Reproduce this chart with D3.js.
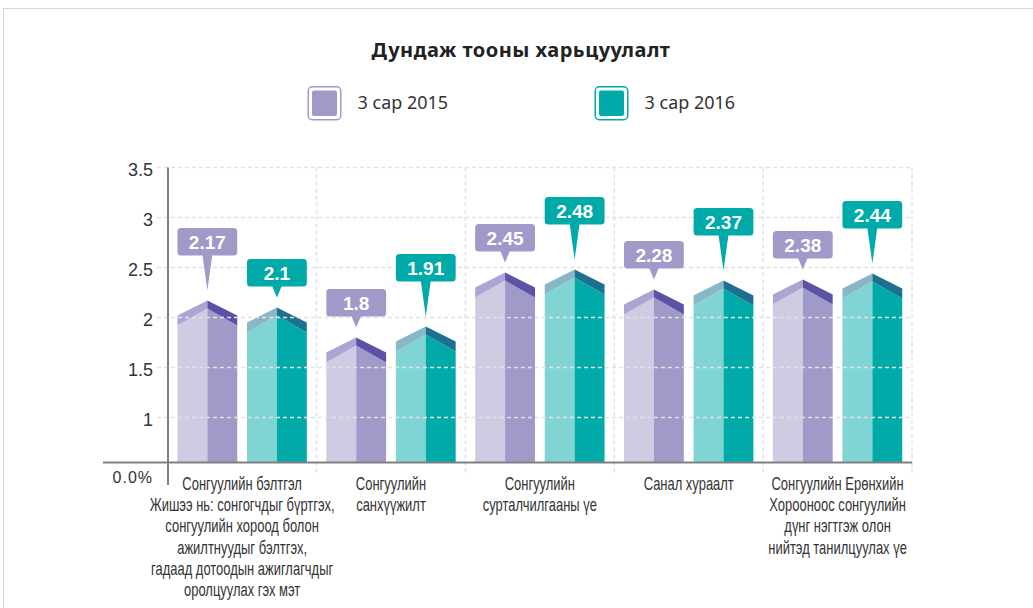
<!DOCTYPE html>
<html>
<head>
<meta charset="utf-8">
<script src="https://cdn.jsdelivr.net/npm/d3@7"></script>
<style>
  html, body { margin: 0; padding: 0; background: #fff; }
  svg { display: block; }
</style>
</head>
<body>
<svg id="chart" width="1033" height="608"></svg>
<script>
// ---------- data ----------
const title = "Дундаж тооны харьцуулалт";
const seriesNames = ["3 сар 2015", "3 сар 2016"];
const categoryLabels = [
  ["Сонгуулийн бэлтгэл", "Жишээ нь: сонгогчдыг бүртгэх,", "сонгуулийн хороод болон", "ажилтнуудыг бэлтгэх,", "гадаад дотоодын ажиглагчдыг", "оролцуулах гэх мэт"],
  ["Сонгуулийн", "санхүүжилт"],
  ["Сонгуулийн", "сурталчилгааны үе"],
  ["Санал хураалт"],
  ["Сонгуулийн Ерөнхийн", "Хорооноос сонгуулийн", "дүнг нэгтгэж олон", "нийтэд танилцуулах үе"]
];
const values2015 = [2.17, 1.8, 2.45, 2.28, 2.38];
const values2016 = [2.1, 1.91, 2.48, 2.37, 2.44];
const yTicks = [1, 1.5, 2, 2.5, 3, 3.5];
const baseLabel = "0.0%";

// ---------- styles ----------
const palette = [
  { main: "#a09ac9", light: "#cfcbe3", roofL: "#aba5d3", roofR: "#5a52a6", callout: "#a09ac9" },
  { main: "#00aaa9", light: "#80d5d4", roofL: "#88b8c7", roofR: "#1c7190", callout: "#00aaa8" }
];
const seriesValues = [values2015, values2016];

const svg = d3.select("#chart");

// frame
svg.append("rect").attr("x", 3.5).attr("y", 8.5).attr("width", 1100).attr("height", 700)
  .attr("fill", "none").attr("stroke", "#d6d6d6").attr("stroke-width", 1);

// scales
const y = d3.scaleLinear().domain([0.55, 3.5]).range([462.5, 167.5]);
const x = d3.scaleBand().domain(categoryLabels.map((d, i) => i)).range([167.7, 912]).padding(0);
const xs = d3.scaleBand().domain([0, 1]).range([0, x.bandwidth()]).paddingInner(0.14).paddingOuter(0.14);
const baseY = y(y.domain()[0]);

// title
svg.append("text").attr("x", 521).attr("y", 57).attr("text-anchor", "middle")
  .attr("font-family", "'Noto Sans', 'Open Sans', sans-serif").attr("font-weight", "700")
  .attr("font-size", 20).attr("letter-spacing", 0.5).attr("fill", "#222").text(title);

// legend
const legendX = [307.5, 594.5];
seriesNames.forEach((name, s) => {
  const g = svg.append("g").attr("transform", `translate(${legendX[s]},86)`);
  g.append("rect").attr("x", 0.75).attr("y", 0.75).attr("width", 32.5).attr("height", 33)
    .attr("rx", 4).attr("fill", "#fff").attr("stroke", palette[s].main).attr("stroke-width", 1.5);
  g.append("rect").attr("x", 4.5).attr("y", 4.5).attr("width", 25).attr("height", 25.5)
    .attr("rx", 2).attr("fill", palette[s].main);
  g.append("text").attr("x", 50).attr("y", 22.5)
    .attr("font-family", "'Noto Sans', 'Open Sans', sans-serif")
    .attr("font-size", 18).attr("fill", "#333").text(name);
});

// bars
const barsG = svg.append("g");
categoryLabels.forEach((c, i) => {
  seriesValues.forEach((vals, s) => {
    const v = vals[i];
    const x0 = x(i) + xs(s), w = xs.bandwidth(), x1 = x0 + w, xc = x0 + w / 2;
    const yp = y(v);
    const p = palette[s];
    const poly = pts => "M" + pts.map(q => q.join(",")).join("L") + "Z";
    barsG.append("path").attr("d", poly([[x0, baseY], [x0, yp + 25], [xc, yp + 8], [xc, baseY]])).attr("fill", p.light);
    barsG.append("path").attr("d", poly([[xc, baseY], [xc, yp + 8], [x1, yp + 25], [x1, baseY]])).attr("fill", p.main);
    barsG.append("path").attr("d", poly([[x0, yp + 15], [xc, yp], [xc, yp + 8], [x0, yp + 25]])).attr("fill", p.roofL);
    barsG.append("path").attr("d", poly([[xc, yp], [x1, yp + 15], [x1, yp + 25], [xc, yp + 8]])).attr("fill", p.roofR);
  });
});

// gridlines (drawn over bars)
const gridG = svg.append("g").attr("stroke", "#e2e2e2").attr("stroke-width", 1.5).attr("stroke-dasharray", "4,3");
yTicks.forEach(t => {
  gridG.append("line").attr("x1", 157).attr("x2", 912).attr("y1", y(t)).attr("y2", y(t));
});
categoryLabels.forEach((c, i) => {
  const xb = x(i) + x.bandwidth();
  gridG.append("line").attr("x1", xb).attr("x2", xb).attr("y1", y(3.5)).attr("y2", 473);
});

// axes lines
svg.append("line").attr("x1", 103).attr("x2", 912).attr("y1", baseY).attr("y2", baseY)
  .attr("stroke", "#808080").attr("stroke-width", 2);
svg.append("line").attr("x1", 168).attr("x2", 168).attr("y1", y(3.5)).attr("y2", 485)
  .attr("stroke", "#808080").attr("stroke-width", 2);

// y tick labels
const yAxis = d3.axisLeft(y).tickValues(yTicks).tickFormat(d3.format("")).tickSize(0).tickPadding(0);
const yAxisG = svg.append("g").attr("transform", "translate(153,0)").call(yAxis);
yAxisG.select(".domain").remove();
yAxisG.selectAll("text").attr("font-family", "'Liberation Sans', Arial, sans-serif")
  .attr("font-size", 18).attr("fill", "#333").attr("dy", "0.42em");
svg.append("text").attr("x", 153).attr("y", 483).attr("text-anchor", "end")
  .attr("font-family", "'Liberation Sans', Arial, sans-serif").attr("font-size", 16)
  .attr("letter-spacing", 1).attr("fill", "#333").text(baseLabel);

// category labels
categoryLabels.forEach((lines, i) => {
  const cx = x(i) + x.bandwidth() / 2;
  lines.forEach((line, k) => {
    svg.append("g").attr("transform", `translate(${cx},${490 + k * 21.2}) scale(0.72,1)`)
      .append("text").attr("text-anchor", "middle")
      .attr("font-family", "'Liberation Sans', Arial, sans-serif").attr("font-size", 18)
      .attr("fill", "#333").text(line);
  });
});

// callouts
const longTail = (i, s) => (i === 0 ? s === 0 : s === 1);
categoryLabels.forEach((c, i) => {
  seriesValues.forEach((vals, s) => {
    const v = vals[i];
    const x0 = x(i) + xs(s), w = xs.bandwidth(), xc = x0 + w / 2;
    const tip = y(v) - 10;
    const bottom = tip - (longTail(i, s) ? 35 : 11);
    const top = bottom - 27.5;
    const g = svg.append("g");
    g.append("path").attr("d", `M${xc - 5},${bottom - 1}L${xc + 5},${bottom - 1}L${xc},${tip}Z`).attr("fill", palette[s].callout);
    g.append("rect").attr("x", x0).attr("y", top).attr("width", w).attr("height", 27.5).attr("rx", 3.5)
      .attr("fill", palette[s].callout);
    g.append("text").attr("x", xc).attr("y", top + 20.5).attr("text-anchor", "middle")
      .attr("font-family", "'Liberation Sans', Arial, sans-serif").attr("font-weight", "700")
      .attr("font-size", 19).attr("fill", "#fff").text(v);
  });
});
</script>
</body>
</html>
